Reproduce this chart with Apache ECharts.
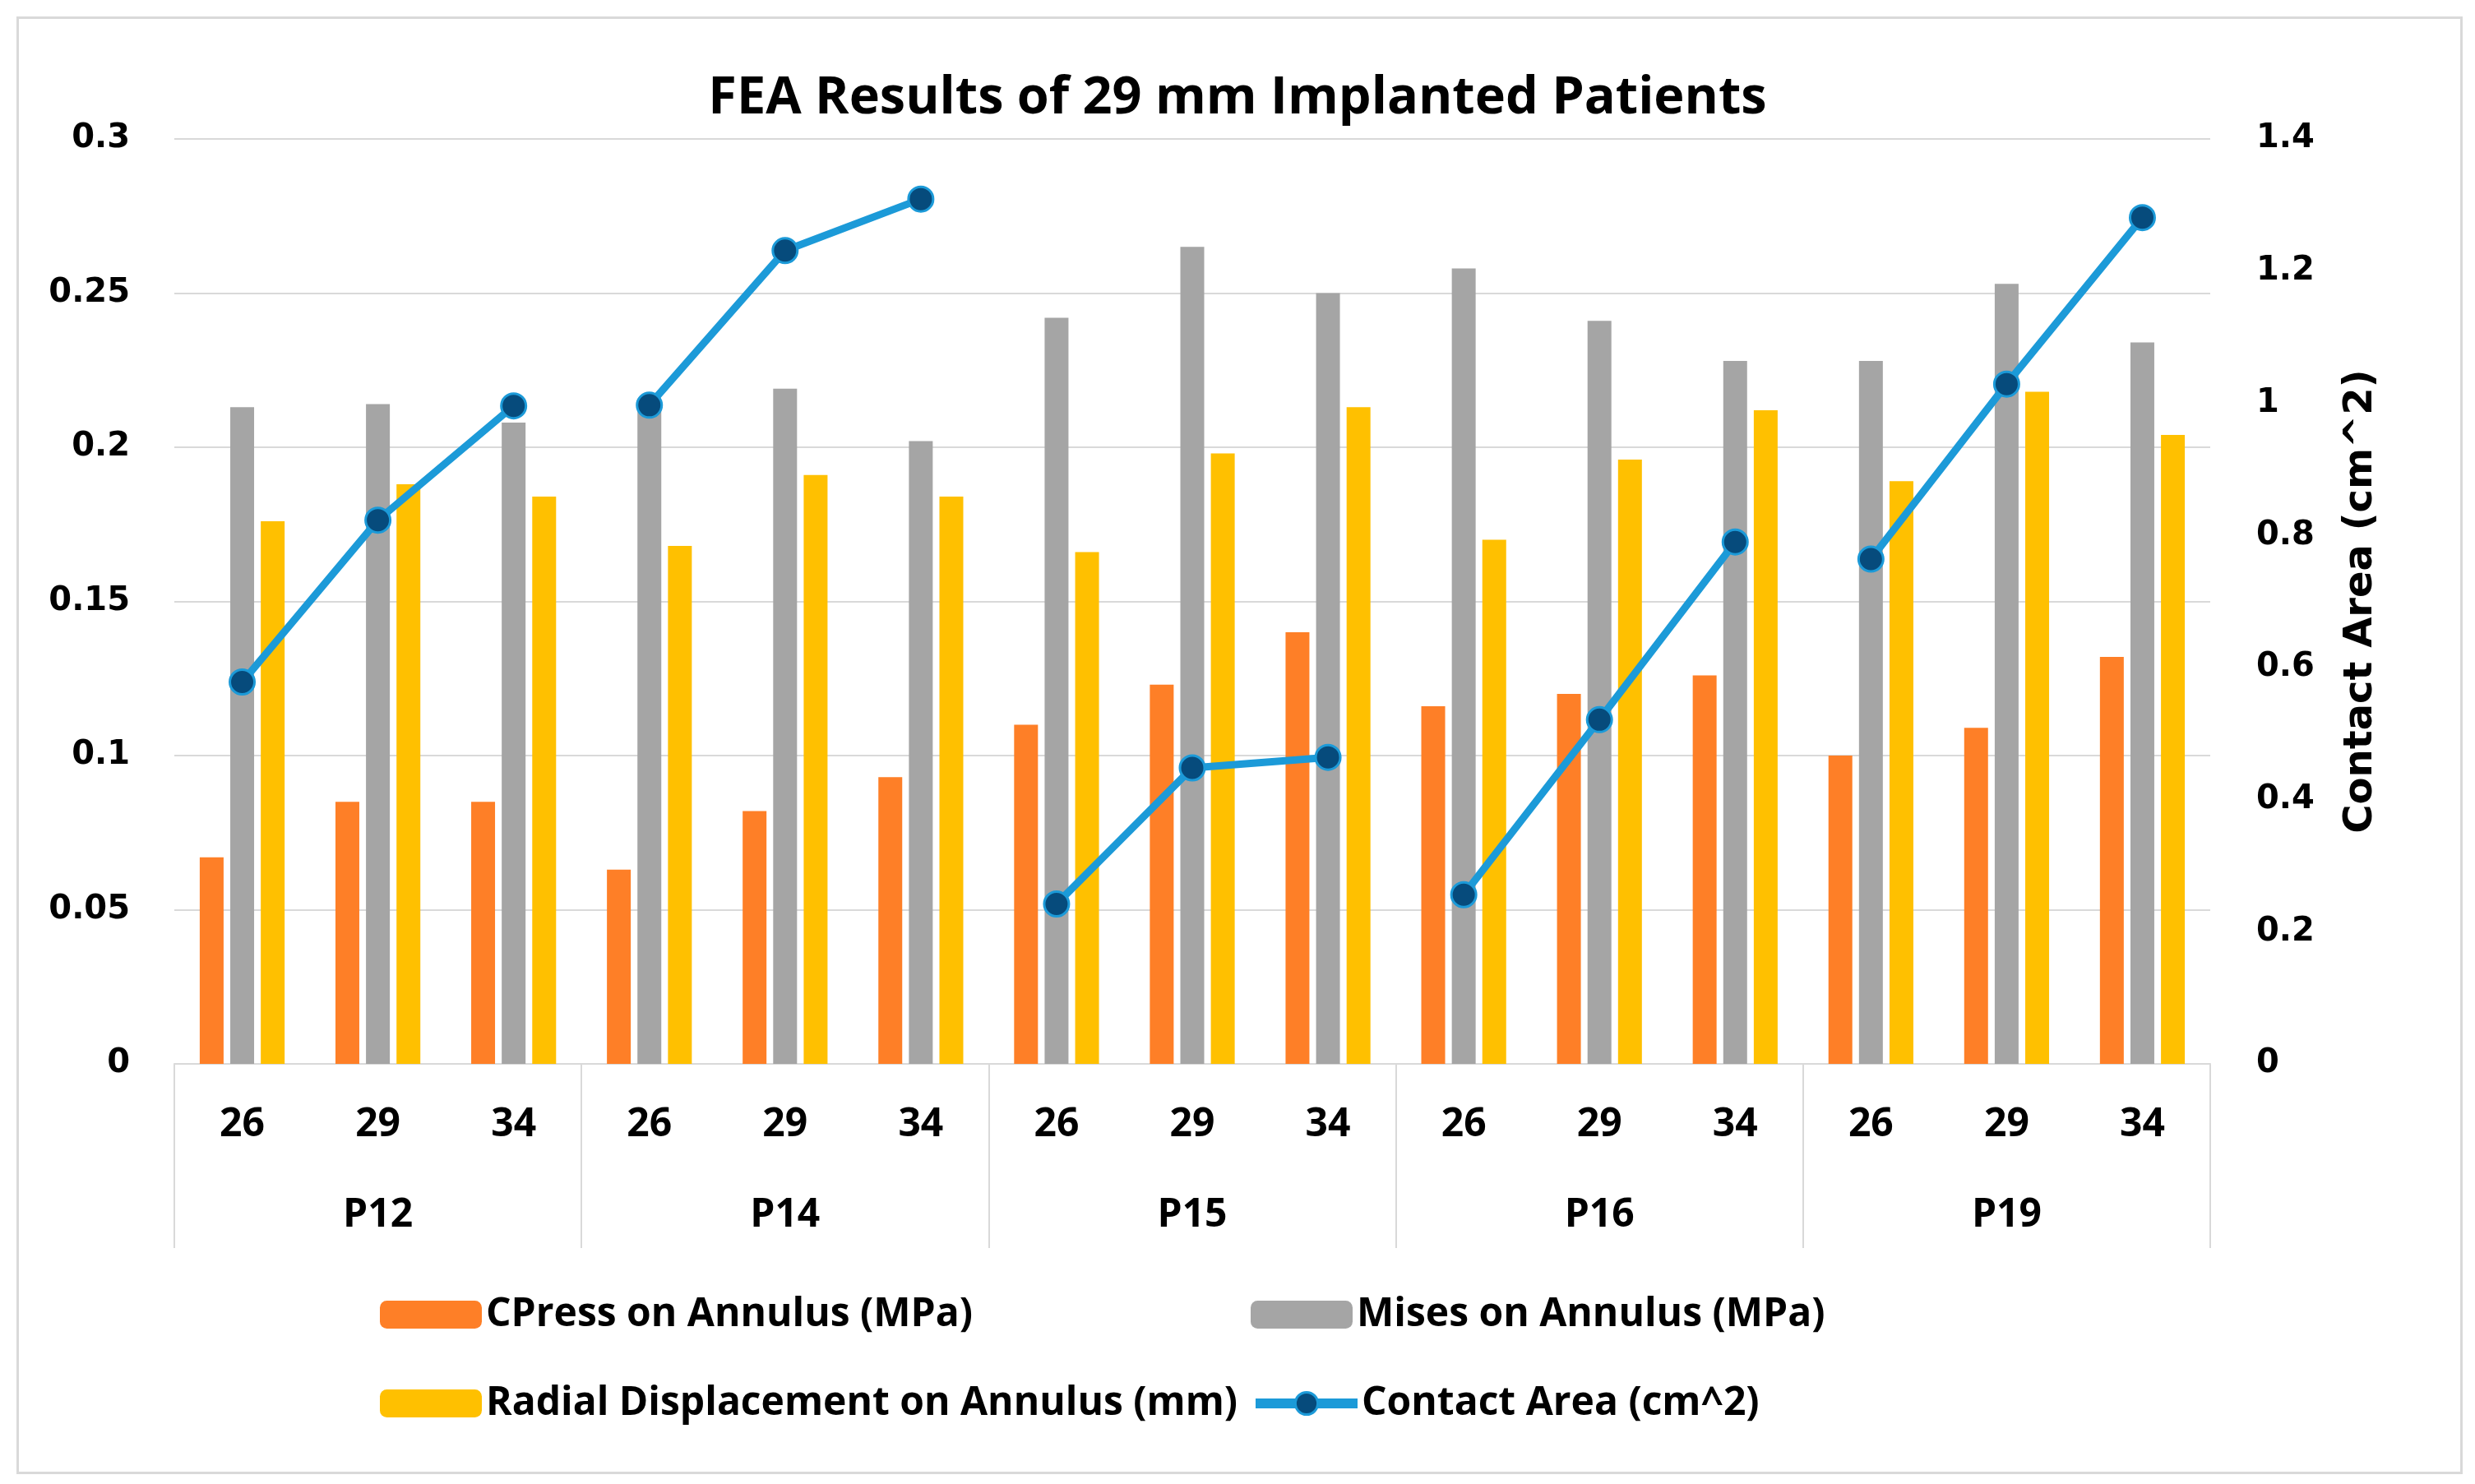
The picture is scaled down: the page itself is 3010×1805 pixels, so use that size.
<!DOCTYPE html>
<html>
<head>
<meta charset="utf-8">
<script src="https://cdn.jsdelivr.net/npm/echarts@6/dist/echarts.min.js"></script>
<style>
html,body{margin:0;padding:0;background:#fff;}
#chart{width:3010px;height:1805px;}
</style>
</head>
<body>
<div id="chart"></div>
<script>
var patients = ['P12', 'P14', 'P15', 'P16', 'P19'];
var sizes = ['26', '29', '34'];
var cpress = [0.067, 0.085, 0.085, 0.063, 0.082, 0.093, 0.110, 0.123, 0.140, 0.116, 0.120, 0.126, 0.100, 0.109, 0.132];
var mises = [0.213, 0.214, 0.208, 0.213, 0.219, 0.202, 0.242, 0.265, 0.250, 0.258, 0.241, 0.228, 0.228, 0.253, 0.234];
var radial = [0.176, 0.188, 0.184, 0.168, 0.191, 0.184, 0.166, 0.198, 0.213, 0.170, 0.196, 0.212, 0.189, 0.218, 0.204];
var contact = [0.578, 0.823, 0.996, 0.997, 1.231, 1.309, 0.242, 0.448, 0.464, 0.256, 0.521, 0.790, 0.764, 1.029, 1.281];
var leftTicks = {min: 0, max: 0.3, interval: 0.05};
var rightTicks = {min: 0, max: 1.4, interval: 0.2};

var categories = [];
patients.forEach(function (p) { sizes.forEach(function (s) { categories.push(p + '|' + s); }); });

var numFont = 'DejaVu Sans';
var textFont = 'Open Sans';
var gridColor = '#d9d9d9';
var C_ORANGE = '#fe7f27', C_GRAY = '#a5a5a5', C_YELLOW = '#ffc000', C_BLUE = '#1c9ad8', C_NAVY = '#064b7c';
var LINE_NAME = 'Contact Area (cm^2)';

var chart = echarts.init(document.getElementById('chart'), null, {renderer: 'canvas'});
var legendText = {fontFamily: textFont, fontWeight: 'bold', fontSize: 48, color: '#000'};
function mkLegend(name, left, top, extra) {
  var l = {data: [name], left: left, top: top, padding: 0, itemWidth: 124, itemHeight: 34,
    textStyle: legendText, selectedMode: false};
  if (extra) { for (var k in extra) l[k] = extra[k]; }
  return l;
}

var series = [{
  name: 'CPress on Annulus (MPa)', type: 'bar', data: cpress, xAxisIndex: 0, yAxisIndex: 0,
  barWidth: 29, barGap: '28%', itemStyle: {color: C_ORANGE}
}, {
  name: 'Mises on Annulus (MPa)', type: 'bar', data: mises, xAxisIndex: 0, yAxisIndex: 0,
  barWidth: 29, barGap: '28%', itemStyle: {color: C_GRAY}
}, {
  name: 'Radial Displacement on Annulus (mm)', type: 'bar', data: radial, xAxisIndex: 0, yAxisIndex: 0,
  barWidth: 29, barGap: '28%', itemStyle: {color: C_YELLOW}
}];
// one line segment per patient (the reference breaks the line between patients)
patients.forEach(function (p, gi) {
  var d = contact.map(function (v, i) { return Math.floor(i / sizes.length) === gi ? v : null; });
  series.push({
    name: LINE_NAME, type: 'line', data: d, xAxisIndex: 0, yAxisIndex: 1,
    symbol: 'circle', symbolSize: 30, z: 5, connectNulls: false,
    lineStyle: {color: C_BLUE, width: 9},
    itemStyle: {color: C_NAVY, borderColor: C_BLUE, borderWidth: 3}
  });
});

var option = {
  backgroundColor: '#ffffff',
  animation: false,
  title: {
    text: 'FEA Results of 29 mm Implanted Patients',
    left: 'center', top: 84,
    textStyle: {fontFamily: textFont, fontWeight: 'bold', fontSize: 63, color: '#000'}
  },
  graphic: [{
    type: 'rect', left: 19, top: 19, silent: true,
    shape: {width: 2972, height: 1770},
    style: {fill: 'none', stroke: '#d9d9d9', lineWidth: 3}
  }],
  legend: [
    mkLegend('CPress on Annulus (MPa)', 462, 1575),
    mkLegend('Mises on Annulus (MPa)', 1521, 1575),
    mkLegend('Radial Displacement on Annulus (mm)', 462, 1683),
    mkLegend(LINE_NAME, 1521, 1683, {
      lineStyle: {color: C_BLUE, width: 12},
      itemStyle: {color: C_NAVY, borderColor: C_BLUE, borderWidth: 3}
    })
  ],
  grid: {left: 212, right: 322, top: 169, bottom: 511},
  xAxis: [{
    type: 'category', data: categories, position: 'bottom',
    axisLine: {show: true, lineStyle: {color: gridColor, width: 2}},
    axisTick: {show: false},
    axisLabel: {interval: 0, margin: 50, fontFamily: textFont, fontWeight: 'bold', fontSize: 48, color: '#000',
      formatter: function (v) { return v.split('|')[1]; }},
    splitLine: {show: false}
  }, {
    type: 'category', data: patients, position: 'bottom', offset: 0,
    axisLine: {show: false},
    axisTick: {show: true, length: 224, interval: 0, lineStyle: {color: gridColor, width: 2}},
    axisLabel: {interval: 0, margin: 160, fontFamily: textFont, fontWeight: 'bold', fontSize: 48, color: '#000'},
    splitLine: {show: false}
  }],
  yAxis: [{
    type: 'value', min: leftTicks.min, max: leftTicks.max, interval: leftTicks.interval,
    axisLine: {show: false}, axisTick: {show: false},
    splitLine: {show: true, lineStyle: {color: gridColor, width: 2}},
    axisLabel: {margin: 54, fontFamily: numFont, fontWeight: 'bold', fontSize: 40, color: '#000'}
  }, {
    type: 'value', position: 'right', min: rightTicks.min, max: rightTicks.max, interval: rightTicks.interval,
    axisLine: {show: false}, axisTick: {show: false}, splitLine: {show: false},
    axisLabel: {margin: 56, fontFamily: numFont, fontWeight: 'bold', fontSize: 40, color: '#000'},
    name: LINE_NAME, nameLocation: 'middle', nameRotate: 90, nameGap: 160,
    nameTextStyle: {fontFamily: numFont, fontWeight: 'bold', fontSize: 48, color: '#000'}
  }],
  series: series
};
chart.setOption(option);
</script>
</body>
</html>
